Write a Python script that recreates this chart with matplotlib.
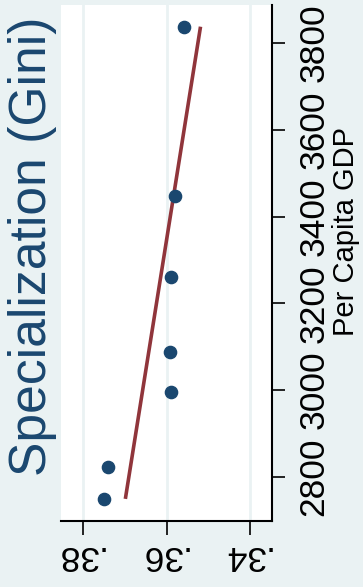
import numpy as np
import matplotlib
matplotlib.use("Agg")
import matplotlib.pyplot as plt
import matplotlib.transforms as mtransforms

# Data
gdp = [3838, 3448, 3261, 3088, 2995, 2823, 2749]
gini = [0.3559, 0.3580, 0.3590, 0.3592, 0.3590, 0.3741, 0.3749]
gini_ticks = [0.38, 0.36, 0.34]
gini_tick_labels = [".38", ".36", ".34"]
gdp_ticks = [2800, 3000, 3200, 3400, 3600, 3800]
gdp_tick_labels = ["2800", "3000", "3200", "3400", "3600", "3800"]

W, H = 363, 587
plt.rcParams['font.family'] = ['Liberation Sans', 'DejaVu Sans']
fig = plt.figure(figsize=(W / 100, H / 100), dpi=100)
bg = "#eaf2f3"
fig.patch.set_facecolor(bg)

ax = fig.add_axes([61 / W, (H - 521) / H, (272 - 61) / W, (521 - 5) / H])
ax.set_facecolor("white")

# fitted line: gini regressed on GDP, drawn over the GDP range
b, a = np.polyfit(gdp, gini, 1)
g_line = np.array([min(gdp), max(gdp)])
ax.plot(a + b * g_line, g_line, color="#90353b", lw=2.6, zorder=3, solid_capstyle="butt")
ax.plot(gini, gdp, "o", color="#1a476f", ms=8.8, zorder=4)

ax.set_xlim(0.3853, 0.3347)
ax.set_ylim(2698, 3888)

ax.set_xticks(gini_ticks, gini_tick_labels)
ax.yaxis.tick_right()
ax.set_yticks(gdp_ticks, gdp_tick_labels)

ax.grid(axis="x", color=bg, lw=2)
ax.set_axisbelow(True)
for s in ["left", "top"]:
    ax.spines[s].set_visible(False)
for s in ["bottom", "right"]:
    ax.spines[s].set_linewidth(1.5)
ax.tick_params(axis="x", length=10, width=1.2, pad=2.7, labelsize=25.5, labelrotation=180)
ax.tick_params(axis="y", length=9, width=1.2, pad=9.3, labelsize=25.5, labelrotation=90,
               right=True, labelright=True, left=False, labelleft=False)
for lab in ax.get_yticklabels():
    lab.set_va("center")
shift = mtransforms.ScaledTranslation(-4.5 / 100, 0, fig.dpi_scale_trans)
for lab in ax.get_xticklabels():
    lab.set_transform(lab.get_transform() + shift)

fig.text(33 / W, 1 - 246 / H, "Specialization (Gini)", rotation=90, color="#1a476f",
         fontsize=37.2, ha="center", va="center")
fig.text(346.5 / W, 1 - 231 / H, "Per Capita GDP", rotation=90, color="black",
         fontsize=21, ha="center", va="center")

fig.savefig("out.png", dpi=100, facecolor=bg)
